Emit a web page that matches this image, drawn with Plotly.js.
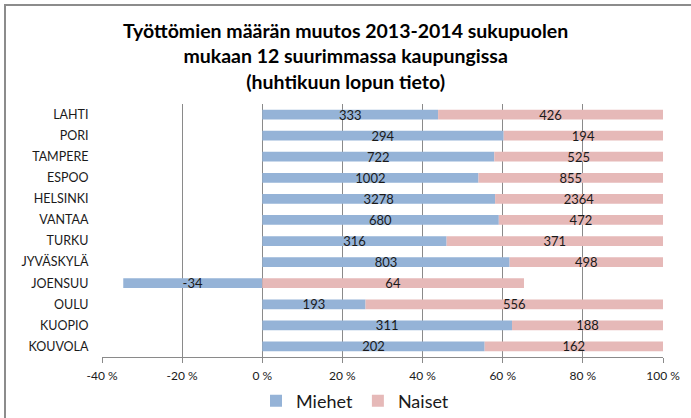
<!DOCTYPE html>
<html>
<head>
<meta charset="utf-8">
<script src="https://cdn.plot.ly/plotly-3.0.1.min.js"></script>
<style>
  html, body { margin: 0; padding: 0; background: #fff; overflow: hidden; }
  #frame { position: absolute; left: 4px; top: 4px; width: 720px; height: 440px;
           border-left: 2px solid #8c8c8c; border-top: 2px solid #8c8c8c; }
  #chart { position: absolute; left: 0; top: 0; width: 691px; height: 418px; }
</style>
</head>
<body>
<div id="frame"></div>
<div id="chart"></div>
<script>
const cities = ["LAHTI", "PORI", "TAMPERE", "ESPOO", "HELSINKI", "VANTAA", "TURKU",
                "JYVÄSKYLÄ", "JOENSUU", "OULU", "KUOPIO", "KOUVOLA"];
const miehet = [333, 294, 722, 1002, 3278, 680, 316, 803, -34, 193, 311, 202];
const naiset = [426, 194, 525, 855, 2364, 472, 371, 498, 64, 556, 188, 162];
const xTicks = [-40, -20, 0, 20, 40, 60, 80, 100];
const xTickLabels = ["-40 %", "-20 %", "0 %", "20 %", "40 %", "60 %", "80 %", "100 %"];
const titleText = "Työttömien määrän muutos 2013-2014 sukupuolen<br>mukaan 12 suurimmassa kaupungissa<br>(huhtikuun lopun tieto)";

const totals = miehet.map((m, i) => Math.abs(m) + Math.abs(naiset[i]));
const miehetPct = miehet.map((m, i) => m / totals[i] * 100);
const naisetPct = naiset.map((n, i) => n / totals[i] * 100);

const FONT = "Lato, 'Open Sans', sans-serif";
const GRID = "#8a8a8a";

const common = {
  type: "bar", orientation: "h", y: cities,
  textposition: "inside", insidetextanchor: "middle", textangle: 0,
  constraintext: "none", cliponaxis: false,
  insidetextfont: { family: FONT, size: 13, color: "#1a1a1a" },
  hoverinfo: "skip"
};

const traces = [
  Object.assign({}, common, {
    name: "Miehet", x: miehetPct, text: miehet.map(String),
    marker: { color: "#95B3D7" }
  }),
  Object.assign({}, common, {
    name: "Naiset", x: naisetPct, text: naiset.map(String),
    marker: { color: "#E6B9B8" }
  })
];

const layout = {
  width: 691, height: 418,
  paper_bgcolor: "rgba(0,0,0,0)", plot_bgcolor: "rgba(0,0,0,0)",
  margin: { l: 102, r: 28, t: 104, b: 61 },
  barmode: "relative", bargap: 0.54,
  font: { family: FONT, color: "#1a1a1a" },
  annotations: [{
    text: "<b>" + titleText + "</b>",
    xref: "paper", yref: "paper",
    x: (345 - 102) / 561, xanchor: "center",
    y: 1 + (104 - 17) / 253, yanchor: "top",
    showarrow: false, align: "center",
    font: { family: FONT, size: 19.5, color: "#000" }
  }],
  xaxis: {
    range: [-40, 100], tickvals: xTicks, ticktext: xTickLabels,
    showgrid: true, gridcolor: GRID, gridwidth: 1,
    zeroline: false, showline: true, linecolor: GRID, linewidth: 1,
    ticks: "outside", ticklen: 5, tickcolor: GRID, ticklabelstandoff: 3,
    tickfont: { family: FONT, size: 12, color: "#1a1a1a" },
    fixedrange: true
  },
  yaxis: {
    type: "category", autorange: "reversed",
    showgrid: false, zeroline: false, showline: false,
    ticks: "outside", ticklen: 10, tickcolor: "rgba(0,0,0,0)",
    tickfont: { family: FONT, size: 12.5, color: "#1a1a1a" },
    fixedrange: true
  },
  yaxis2: {
    overlaying: "y", anchor: "free", position: 40 / 140, side: "left",
    range: [-0.5, 11.5], tick0: -0.5, dtick: 1,
    showticklabels: false, showgrid: false, zeroline: false,
    showline: true, linecolor: GRID, linewidth: 1,
    ticks: "outside", ticklen: 5, tickcolor: GRID, fixedrange: true
  },
  showlegend: true,
  legend: {
    orientation: "h", xref: "container", yref: "container",
    x: 355 / 691, xanchor: "center", y: (418 - 401) / 418, yanchor: "middle",
    font: { family: FONT, size: 18, color: "#1a1a1a" },
    traceorder: "normal", itemwidth: 30
  }
};

Plotly.newPlot("chart", traces, layout, { displayModeBar: false, staticPlot: true });
</script>
</body>
</html>
